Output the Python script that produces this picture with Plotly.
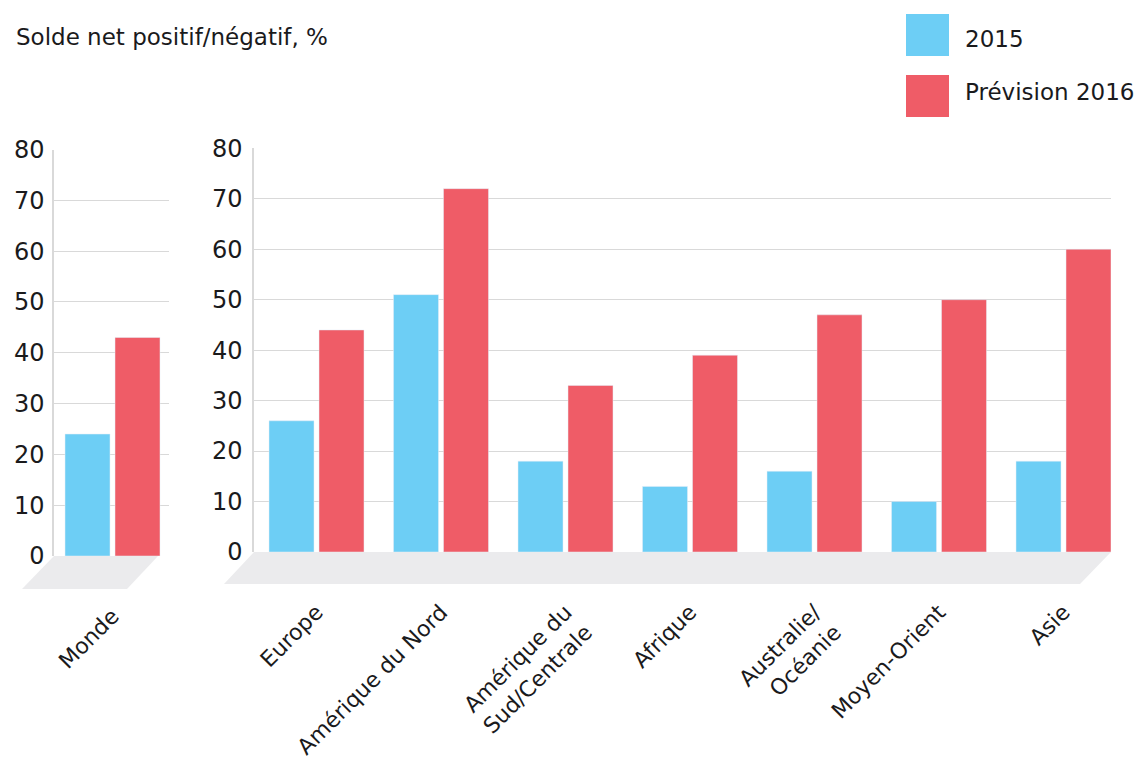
import plotly.graph_objects as go

# Net balance (% positive minus negative), 2015 vs 2016 forecast
world = ["Monde"]
world_2015 = [24]
world_2016 = [43]

regions = ["Europe", "Amérique du Nord", "Amérique du<br>Sud/Centrale", "Afrique",
           "Australie/<br>Océanie", "Moyen-Orient", "Asie"]
regions_2015 = [26, 51, 18, 13, 16, 10, 18]
regions_2016 = [44, 72, 33, 39, 47, 50, 60]

y_ticks = [0, 10, 20, 30, 40, 50, 60, 70, 80]

series_names = ["2015", "Prévision 2016"]
title_text = "Solde net positif/négatif, %"

W, H = 1141, 758
BLUE = "#6dcef5"
RED = "#ef5c67"
FLOOR = "#ebebed"
GRID = "#d9d9d9"
TEXT = "#1a1a1c"
FONT = "DejaVu Sans, sans-serif"


def px(x):
    return x / W


def py(y):
    return 1 - y / H


bar_w = 0.3614
off_a = -0.3815
off_b = 0.0201

fig = go.Figure()

for xref, yref, cats, a, b in [("x", "y", world, world_2015, world_2016),
                               ("x2", "y2", regions, regions_2015, regions_2016)]:
    fig.add_trace(go.Bar(x=cats, y=a, name=series_names[0], marker_color=BLUE,
                         width=bar_w, offset=off_a, xaxis=xref, yaxis=yref,
                         showlegend=False))
    fig.add_trace(go.Bar(x=cats, y=b, name=series_names[1], marker_color=RED,
                         width=bar_w, offset=off_b, xaxis=xref, yaxis=yref,
                         showlegend=False))

yaxis_common = dict(range=[0, 80], tickvals=y_ticks, showgrid=True, gridcolor=GRID,
                    gridwidth=1.2, zeroline=False, showline=True, linecolor=GRID,
                    linewidth=1.5, ticks="", automargin=False,
                    tickfont=dict(size=24, color=TEXT, family=FONT), fixedrange=True)
xaxis_common = dict(type="category", showgrid=False, zeroline=False, showline=False,
                    ticks="", tickangle=-45, ticklabelstandoff=42, automargin=False,
                    tickfont=dict(size=22, color=TEXT, family=FONT), fixedrange=True)

fig.update_layout(
    width=W, height=H,
    margin=dict(l=0, r=0, t=0, b=0, autoexpand=False),
    paper_bgcolor="white", plot_bgcolor="rgba(0,0,0,0)",
    barmode="overlay",
    showlegend=False,
    xaxis=dict(xaxis_common, domain=[px(54), px(169)], range=[-0.47, 0.4538], anchor="y"),
    yaxis=dict(yaxis_common, domain=[py(556), py(149.5)], anchor="x", ticklabelstandoff=3),
    xaxis2=dict(xaxis_common, domain=[px(254), px(1111)], range=[-0.502, 6.3815], anchor="y2"),
    yaxis2=dict(yaxis_common, domain=[py(552), py(148.3)], anchor="x2", ticklabelstandoff=5),
)

# Perspective floors under each panel
floors = [
    [(54, 556), (158, 556), (127, 589), (22, 589)],
    [(254, 552), (1111, 552), (1080, 584), (224, 584)],
]
for pts in floors:
    path = "M " + " L ".join(f"{px(x)},{py(y)}" for x, y in pts) + " Z"
    fig.add_shape(type="path", path=path, xref="paper", yref="paper",
                  fillcolor=FLOOR, line=dict(width=0), layer="below")

# Legend swatches and labels
for (y0, y1), ty, color, name in [((14, 56), 39, BLUE, series_names[0]),
                                  ((75, 117), 92, RED, series_names[1])]:
    fig.add_shape(type="rect", xref="paper", yref="paper",
                  x0=px(906), x1=px(949), y0=py(y1), y1=py(y0),
                  fillcolor=color, line=dict(width=0))
    fig.add_annotation(text=name, xref="paper", yref="paper", x=px(963),
                       y=py(ty), xanchor="left", yanchor="middle",
                       showarrow=False, font=dict(size=23, color=TEXT, family=FONT))

fig.add_annotation(text=title_text, xref="paper", yref="paper", x=px(14), y=py(37),
                   xanchor="left", yanchor="middle", showarrow=False,
                   font=dict(size=23, color=TEXT, family=FONT))

fig.write_html("out.html")
